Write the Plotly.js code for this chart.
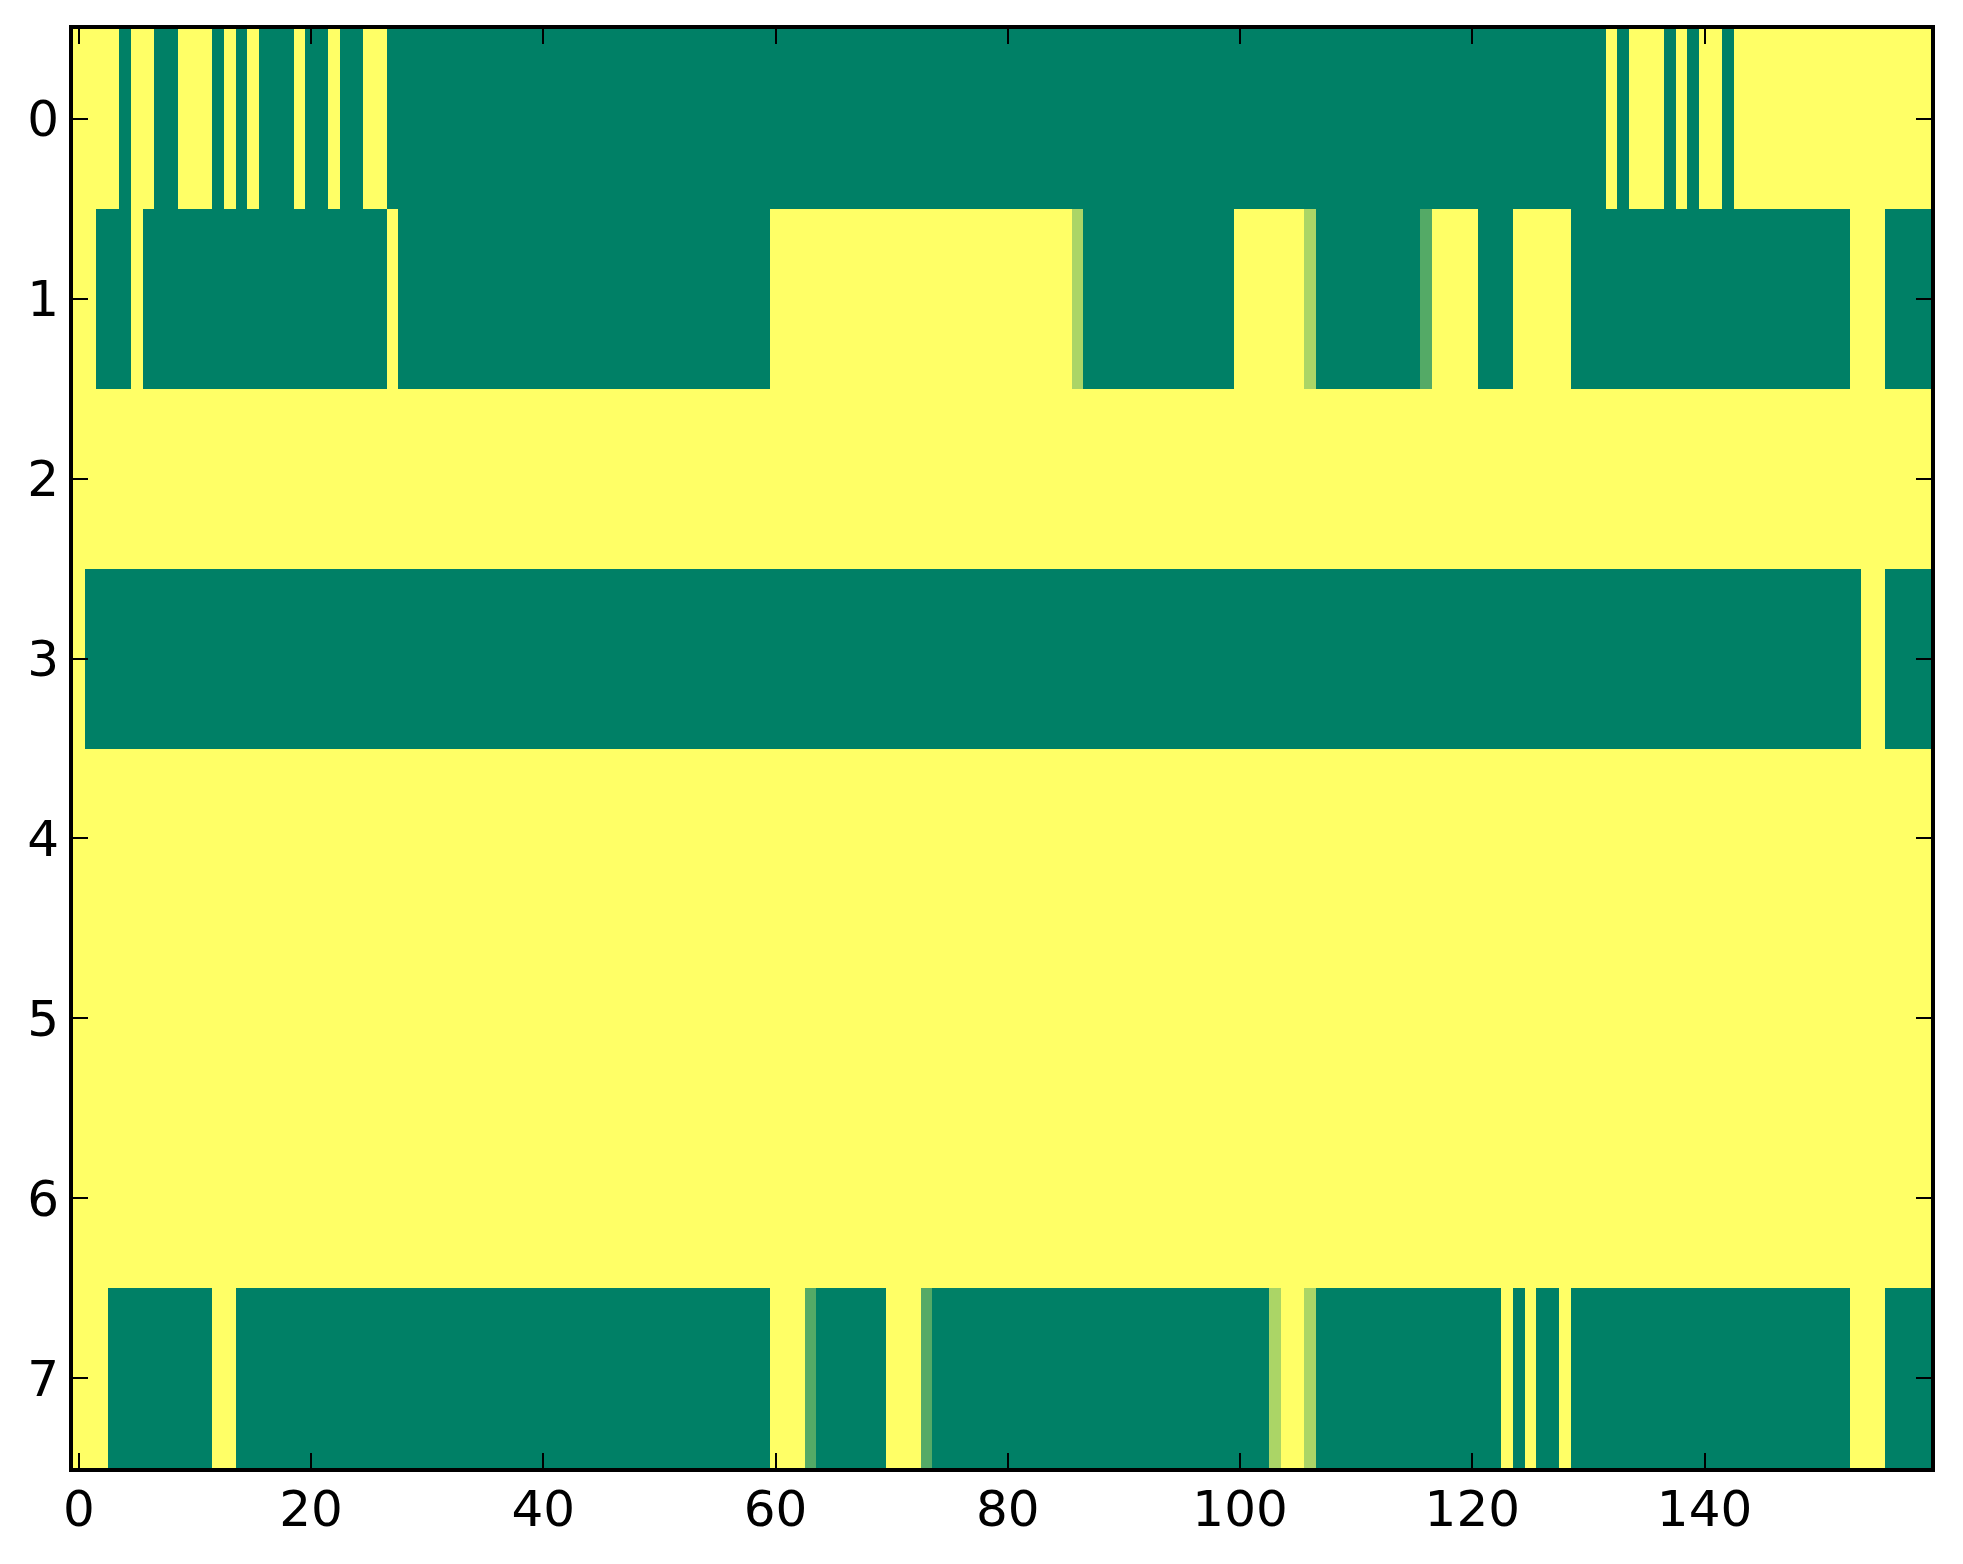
<!DOCTYPE html>
<html>
<head>
<meta charset="utf-8">
<script src="https://cdn.plot.ly/plotly-3.0.1.min.js"></script>
<style>
  html, body { margin: 0; padding: 0; background: #ffffff; }
  #chart { width: 1963px; height: 1564px; }
</style>
</head>
<body>
<div id="chart"></div>
<script>
// Row labels and tick labels
var rowLabels = [0, 1, 2, 3, 4, 5, 6, 7];
var xTickVals = [0, 20, 40, 60, 80, 100, 120, 140];

// Cell values per row (160 columns each)
var row0 = [
  1,1,1,1,0,1,1,0,0,1, 1,1,0,1,0,1,0,0,0,1,
  0,0,1,0,0,1,1,0,0,0, 0,0,0,0,0,0,0,0,0,0,
  0,0,0,0,0,0,0,0,0,0, 0,0,0,0,0,0,0,0,0,0,
  0,0,0,0,0,0,0,0,0,0, 0,0,0,0,0,0,0,0,0,0,
  0,0,0,0,0,0,0,0,0,0, 0,0,0,0,0,0,0,0,0,0,
  0,0,0,0,0,0,0,0,0,0, 0,0,0,0,0,0,0,0,0,0,
  0,0,0,0,0,0,0,0,0,0, 0,0,1,0,1,1,1,0,1,0,
  1,1,0,1,1,1,1,1,1,1, 1,1,1,1,1,1,1,1,1,1
];
var row1 = [
  1,1,0,0,0,1,0,0,0,0, 0,0,0,0,0,0,0,0,0,0,
  0,0,0,0,0,0,0,1,0,0, 0,0,0,0,0,0,0,0,0,0,
  0,0,0,0,0,0,0,0,0,0, 0,0,0,0,0,0,0,0,0,0,
  1,1,1,1,1,1,1,1,1,1, 1,1,1,1,1,1,1,1,1,1,
  1,1,1,1,1,1,0.67,0,0,0, 0,0,0,0,0,0,0,0,0,0,
  1,1,1,1,1,1,0.67,0,0,0, 0,0,0,0,0,0,0.33,1,1,1,
  1,0,0,0,1,1,1,1,1,0, 0,0,0,0,0,0,0,0,0,0,
  0,0,0,0,0,0,0,0,0,0, 0,0,0,1,1,1,0,0,0,0
];
var row2 = [
  1,1,1,1,1,1,1,1,1,1, 1,1,1,1,1,1,1,1,1,1,
  1,1,1,1,1,1,1,1,1,1, 1,1,1,1,1,1,1,1,1,1,
  1,1,1,1,1,1,1,1,1,1, 1,1,1,1,1,1,1,1,1,1,
  1,1,1,1,1,1,1,1,1,1, 1,1,1,1,1,1,1,1,1,1,
  1,1,1,1,1,1,1,1,1,1, 1,1,1,1,1,1,1,1,1,1,
  1,1,1,1,1,1,1,1,1,1, 1,1,1,1,1,1,1,1,1,1,
  1,1,1,1,1,1,1,1,1,1, 1,1,1,1,1,1,1,1,1,1,
  1,1,1,1,1,1,1,1,1,1, 1,1,1,1,1,1,1,1,1,1
];
var row3 = [
  1,0,0,0,0,0,0,0,0,0, 0,0,0,0,0,0,0,0,0,0,
  0,0,0,0,0,0,0,0,0,0, 0,0,0,0,0,0,0,0,0,0,
  0,0,0,0,0,0,0,0,0,0, 0,0,0,0,0,0,0,0,0,0,
  0,0,0,0,0,0,0,0,0,0, 0,0,0,0,0,0,0,0,0,0,
  0,0,0,0,0,0,0,0,0,0, 0,0,0,0,0,0,0,0,0,0,
  0,0,0,0,0,0,0,0,0,0, 0,0,0,0,0,0,0,0,0,0,
  0,0,0,0,0,0,0,0,0,0, 0,0,0,0,0,0,0,0,0,0,
  0,0,0,0,0,0,0,0,0,0, 0,0,0,0,1,1,0,0,0,0
];
var row4 = [
  1,1,1,1,1,1,1,1,1,1, 1,1,1,1,1,1,1,1,1,1,
  1,1,1,1,1,1,1,1,1,1, 1,1,1,1,1,1,1,1,1,1,
  1,1,1,1,1,1,1,1,1,1, 1,1,1,1,1,1,1,1,1,1,
  1,1,1,1,1,1,1,1,1,1, 1,1,1,1,1,1,1,1,1,1,
  1,1,1,1,1,1,1,1,1,1, 1,1,1,1,1,1,1,1,1,1,
  1,1,1,1,1,1,1,1,1,1, 1,1,1,1,1,1,1,1,1,1,
  1,1,1,1,1,1,1,1,1,1, 1,1,1,1,1,1,1,1,1,1,
  1,1,1,1,1,1,1,1,1,1, 1,1,1,1,1,1,1,1,1,1
];
var row5 = [
  1,1,1,1,1,1,1,1,1,1, 1,1,1,1,1,1,1,1,1,1,
  1,1,1,1,1,1,1,1,1,1, 1,1,1,1,1,1,1,1,1,1,
  1,1,1,1,1,1,1,1,1,1, 1,1,1,1,1,1,1,1,1,1,
  1,1,1,1,1,1,1,1,1,1, 1,1,1,1,1,1,1,1,1,1,
  1,1,1,1,1,1,1,1,1,1, 1,1,1,1,1,1,1,1,1,1,
  1,1,1,1,1,1,1,1,1,1, 1,1,1,1,1,1,1,1,1,1,
  1,1,1,1,1,1,1,1,1,1, 1,1,1,1,1,1,1,1,1,1,
  1,1,1,1,1,1,1,1,1,1, 1,1,1,1,1,1,1,1,1,1
];
var row6 = [
  1,1,1,1,1,1,1,1,1,1, 1,1,1,1,1,1,1,1,1,1,
  1,1,1,1,1,1,1,1,1,1, 1,1,1,1,1,1,1,1,1,1,
  1,1,1,1,1,1,1,1,1,1, 1,1,1,1,1,1,1,1,1,1,
  1,1,1,1,1,1,1,1,1,1, 1,1,1,1,1,1,1,1,1,1,
  1,1,1,1,1,1,1,1,1,1, 1,1,1,1,1,1,1,1,1,1,
  1,1,1,1,1,1,1,1,1,1, 1,1,1,1,1,1,1,1,1,1,
  1,1,1,1,1,1,1,1,1,1, 1,1,1,1,1,1,1,1,1,1,
  1,1,1,1,1,1,1,1,1,1, 1,1,1,1,1,1,1,1,1,1
];
var row7 = [
  1,1,1,0,0,0,0,0,0,0, 0,0,1,1,0,0,0,0,0,0,
  0,0,0,0,0,0,0,0,0,0, 0,0,0,0,0,0,0,0,0,0,
  0,0,0,0,0,0,0,0,0,0, 0,0,0,0,0,0,0,0,0,0,
  1,1,1,0.33,0,0,0,0,0,0, 1,1,1,0.33,0,0,0,0,0,0,
  0,0,0,0,0,0,0,0,0,0, 0,0,0,0,0,0,0,0,0,0,
  0,0,0,0.67,1,1,0.67,0,0,0, 0,0,0,0,0,0,0,0,0,0,
  0,0,0,1,0,1,0,0,1,0, 0,0,0,0,0,0,0,0,0,0,
  0,0,0,0,0,0,0,0,0,0, 0,0,0,1,1,1,0,0,0,0
];

var zRows = [row0, row1, row2, row3, row4, row5, row6, row7];
var colIndex = row0.map(function (_, i) { return i; });

var trace = {
  type: 'heatmap',
  z: zRows,
  x: colIndex,
  y: rowLabels,
  zmin: 0,
  zmax: 1,
  zsmooth: false,
  showscale: false,
  hoverinfo: 'x+y+z',
  colorscale: [[0, 'rgb(0,128,102)'], [1, 'rgb(255,255,102)']]
};

var axisCommon = {
  showline: true,
  linecolor: '#000000',
  linewidth: 4,
  mirror: 'ticks',
  ticks: 'inside',
  ticklen: 15,
  tickwidth: 2,
  tickcolor: '#000000',
  showgrid: false,
  zeroline: false,
  tickfont: { family: 'DejaVu Sans', size: 50, color: '#000000' }
};

var layout = {
  width: 1963,
  height: 1564,
  margin: { l: 73, r: 32, t: 29, b: 96, pad: 0 },
  paper_bgcolor: '#ffffff',
  plot_bgcolor: '#ffffff',
  showlegend: false,
  xaxis: Object.assign({}, axisCommon, {
    range: [-0.5, 159.5],
    tickmode: 'array',
    tickvals: xTickVals,
    ticktext: xTickVals.map(String),
    ticklabelstandoff: -6
  }),
  yaxis: Object.assign({}, axisCommon, {
    range: [7.5, -0.5],
    tickmode: 'array',
    tickvals: rowLabels,
    ticktext: rowLabels.map(String),
    ticklabelstandoff: 0
  })
};

Plotly.newPlot('chart', [trace], layout, { displayModeBar: false, staticPlot: true });
</script>
</body>
</html>
